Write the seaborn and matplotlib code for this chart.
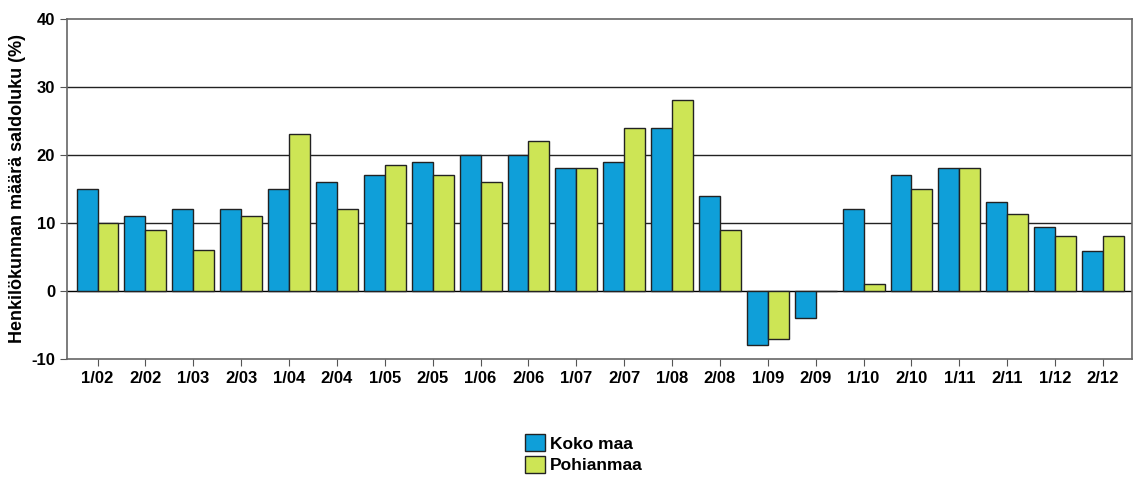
import pandas as pd
import matplotlib.pyplot as plt
import seaborn as sns

kaudet = ["1/02", "2/02", "1/03", "2/03", "1/04", "2/04", "1/05", "2/05", "1/06", "2/06", "1/07",
          "2/07", "1/08", "2/08", "1/09", "2/09", "1/10", "2/10", "1/11", "2/11", "1/12", "2/12"]
koko_maa = [15, 11, 12, 12, 15, 16, 17, 19, 20, 20, 18, 19, 24, 14, -8, -4, 12, 17, 18, 13.1, 9.4, 5.8]
pohjanmaa = [10, 9, 6, 11, 23, 12, 18.5, 17, 16, 22, 18, 24, 28, 9, -7.1, 0, 1, 15, 18, 11.3, 8, 8]
sarjat = ["Koko maa", "Pohianmaa"]
varit = ["#0f9fd9", "#cde555"]

df = pd.DataFrame({"kausi": kaudet * 2,
                   "arvo": koko_maa + pohjanmaa,
                   "alue": [sarjat[0]] * len(kaudet) + [sarjat[1]] * len(kaudet)})

sns.set_style("white")
plt.rcParams['font.family'] = ['Liberation Sans', 'DejaVu Sans']
plt.rcParams['font.weight'] = 'bold'
plt.rcParams['axes.unicode_minus'] = False
plt.rcParams['text.color'] = 'black'
plt.rcParams['axes.labelcolor'] = 'black'
plt.rcParams['xtick.color'] = 'black'
plt.rcParams['ytick.color'] = 'black'

fig = plt.figure(figsize=(11.34, 4.83), dpi=100)
ax = fig.add_axes([0.059, 0.257, 0.939, 0.704])

for y in [10, 20, 30]:
    ax.axhline(y, color="#222222", lw=1, zorder=0)
ax.axhline(0, color="black", lw=1, zorder=0)

sns.barplot(data=df, x="kausi", y="arvo", hue="alue", palette=varit, width=0.875,
            edgecolor="#222222", linewidth=1, saturation=1, legend=False, ax=ax)

ax.set_ylim(-10, 40)
ax.set_yticks([-10, 0, 10, 20, 30, 40])
ax.set_xlim(-0.64, 21.6)
ax.set_xlabel("")
ax.set_ylabel("Henkilökunnan määrä saldoluku (%)", fontsize=13, fontweight="bold", labelpad=4)
ax.tick_params(axis="both", labelsize=12, length=5, color="#555555", labelcolor="black",
               direction="out", bottom=True, left=True)
for l in ax.get_xticklabels() + ax.get_yticklabels():
    l.set_fontweight("bold")
for s in ax.spines.values():
    s.set_color("#666666")
    s.set_linewidth(1.2)

kahvat = [plt.Rectangle((0, 0), 1, 1, facecolor=c, edgecolor="#222222", lw=1) for c in varit]
fig.legend(kahvat, sarjat, loc="lower center", bbox_to_anchor=(0.515, -0.012), ncol=1,
           frameon=False, handlelength=1.1, handleheight=1.1, handletextpad=0.3,
           labelspacing=0.25, prop={"weight": "bold", "size": 12.5})

fig.savefig("out.png", dpi=100)
